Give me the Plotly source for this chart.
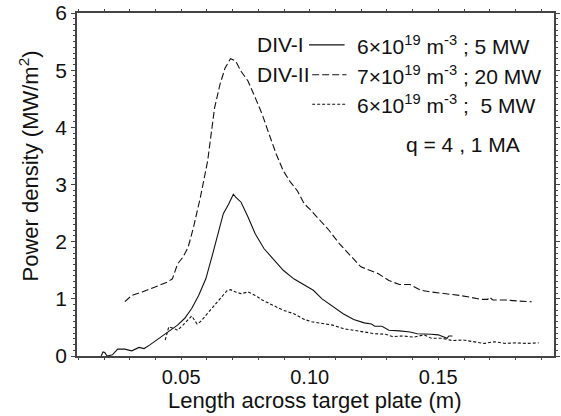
import plotly.graph_objects as go

# DIV-I, 6e19 m^-3, 5 MW (solid)
x_div1 = [0.0189, 0.0196, 0.0203, 0.0212, 0.0233, 0.0253, 0.0281, 0.0308, 0.0336, 0.0356, 0.0377,
          0.0404, 0.0432, 0.0459, 0.0486, 0.0514, 0.0541, 0.0568, 0.0596, 0.0623, 0.0644,
          0.0664, 0.0685, 0.0703, 0.0712, 0.0733, 0.0760, 0.0788, 0.0822, 0.0856, 0.0897,
          0.0938, 0.0979, 0.1014, 0.1048, 0.1089, 0.1130, 0.1171, 0.1212, 0.1240, 0.1253,
          0.1281, 0.1308, 0.1349, 0.1390, 0.1418, 0.1445, 0.1473, 0.1500, 0.1527, 0.1534,
          0.1541, 0.1555]
y_div1 = [0.0, 0.07, 0.06, 0.0, 0.02, 0.12, 0.12, 0.09, 0.15, 0.13, 0.19,
          0.28, 0.37, 0.45, 0.54, 0.66, 0.83, 1.06, 1.35, 1.79, 2.14,
          2.49, 2.66, 2.83, 2.78, 2.69, 2.43, 2.14, 1.88, 1.70, 1.50,
          1.35, 1.24, 1.15, 1.00, 0.87, 0.74, 0.64, 0.58, 0.56, 0.52,
          0.52, 0.45, 0.44, 0.42, 0.39, 0.39, 0.38, 0.37, 0.33, 0.31,
          0.35, 0.35]

# DIV-II, 7e19 m^-3, 20 MW (long dash)
x_div2_20 = [0.0281, 0.0308, 0.0349, 0.0404, 0.0445, 0.0466, 0.0486, 0.0507, 0.0527, 0.0548,
             0.0575, 0.0603, 0.0630, 0.0651, 0.0671, 0.0692, 0.0712, 0.0733, 0.0760, 0.0788,
             0.0815, 0.0842, 0.0870, 0.0897, 0.0925, 0.0952, 0.0979, 0.1000, 0.1034, 0.1075,
             0.1116, 0.1158, 0.1199, 0.1233, 0.1267, 0.1308, 0.1349, 0.1390, 0.1432, 0.1473,
             0.1514, 0.1555, 0.1582, 0.1623, 0.1664, 0.1692, 0.1699, 0.1712, 0.1760, 0.1815,
             0.1863]
y_div2_20 = [0.95, 1.06, 1.12, 1.22, 1.29, 1.35, 1.61, 1.73, 1.90, 2.25,
             2.78, 3.41, 4.34, 4.75, 5.04, 5.20, 5.16, 4.98, 4.81, 4.52,
             4.23, 3.88, 3.53, 3.24, 3.04, 2.89, 2.66, 2.57, 2.40, 2.20,
             1.96, 1.76, 1.56, 1.50, 1.44, 1.32, 1.25, 1.25, 1.15, 1.12,
             1.10, 1.08, 1.06, 1.03, 0.99, 0.99, 1.03, 0.98, 0.98, 0.96,
             0.95]

# DIV-II, 6e19 m^-3, 5 MW (short dash)
x_div2_5 = [0.0438, 0.0445, 0.0452, 0.0473, 0.0486, 0.0507, 0.0527, 0.0541, 0.0562, 0.0575,
            0.0596, 0.0623, 0.0651, 0.0678, 0.0692, 0.0712, 0.0733, 0.0760, 0.0788, 0.0815,
            0.0856, 0.0897, 0.0938, 0.0979, 0.1007, 0.1048, 0.1089, 0.1130, 0.1171, 0.1212,
            0.1253, 0.1295, 0.1322, 0.1363, 0.1404, 0.1445, 0.1473, 0.1514, 0.1555, 0.1596,
            0.1637, 0.1678, 0.1719, 0.1760, 0.1801, 0.1842, 0.1890]
y_div2_5 = [0.28, 0.39, 0.51, 0.48, 0.45, 0.54, 0.63, 0.70, 0.56, 0.60,
            0.71, 0.86, 1.00, 1.14, 1.16, 1.12, 1.09, 1.12, 1.06, 0.98,
            0.89, 0.80, 0.74, 0.64, 0.60, 0.57, 0.54, 0.48, 0.45, 0.42,
            0.39, 0.38, 0.34, 0.35, 0.33, 0.37, 0.31, 0.31, 0.27, 0.28,
            0.25, 0.22, 0.25, 0.22, 0.23, 0.22, 0.23]

x_tickvals = [0.05, 0.10, 0.15]
x_ticktext = ["0.05", "0.10", "0.15"]
y_tickvals = [0, 1, 2, 3, 4, 5, 6]

FONT = "Liberation Sans, Arial, sans-serif"
LC = "#111"

fig = go.Figure()
fig.add_trace(go.Scatter(x=x_div1, y=y_div1, mode="lines",
                         line=dict(color=LC, width=1.1), showlegend=False))
fig.add_trace(go.Scatter(x=x_div2_20, y=y_div2_20, mode="lines",
                         line=dict(color=LC, width=1.1, dash="7px,3px"), showlegend=False))
fig.add_trace(go.Scatter(x=x_div2_5, y=y_div2_5, mode="lines",
                         line=dict(color=LC, width=1.1, dash="3px,2px"), showlegend=False))

axis_common = dict(showgrid=False, zeroline=False, showline=True, linecolor="#444", linewidth=1.5,
                   ticks="outside", tickcolor="#444", mirror="ticks")

fig.update_xaxes(range=[0.0095, 0.195], tickvals=x_tickvals, ticktext=x_ticktext, ticklen=2,
                 tickfont=dict(family=FONT, size=20, color="#111"),
                 minor=dict(dtick=0.01, tick0=0, ticks="outside", ticklen=2, tickcolor="#444"),
                 **axis_common)
fig.update_yaxes(range=[0, 6], tickvals=y_tickvals, ticklen=4,
                 tickfont=dict(family=FONT, size=21, color="#111"),
                 minor=dict(dtick=0.1, tick0=0, ticks="outside", ticklen=2, tickcolor="#444"),
                 **axis_common)

# legend keys
keys = [(0.4865, 0.561, 0.907, "solid"), (0.493, 0.565, 0.820, "7px,3px"), (0.493, 0.565, 0.734, "3px,2px")]
for x0, x1, yy, d in keys:
    fig.add_shape(type="line", xref="paper", yref="paper", x0=x0, x1=x1, y0=yy, y1=yy,
                  line=dict(color=LC, width=1.1, dash=d))

tf = dict(family=FONT, size=21, color="#111")
tf_title = dict(family=FONT, size=22, color="#111")
ann = [
    dict(x=0.481, y=0.907, text="DIV-I", xanchor="right"),
    dict(x=0.493, y=0.820, text="DIV-II", xanchor="right"),
    dict(x=0.582, y=0.907, text="6×10<sup>19</sup> m<sup>-3</sup> ; 5 MW", xanchor="left"),
    dict(x=0.582, y=0.820, text="7×10<sup>19</sup> m<sup>-3</sup> ; 20 MW", xanchor="left"),
    dict(x=0.582, y=0.734, text="6×10<sup>19</sup> m<sup>-3</sup> ;  5 MW", xanchor="left"),
    dict(x=0.685, y=0.616, text="q = 4 , 1 MA", xanchor="left"),
]
for a in ann:
    fig.add_annotation(xref="paper", yref="paper", yanchor="middle", showarrow=False, font=tf, **a)

fig.add_annotation(xref="paper", yref="paper", x=0.497, y=-0.130, text="Length across target plate (m)",
                   showarrow=False, font=tf_title, xanchor="center", yanchor="middle")
fig.add_annotation(xref="paper", yref="paper", x=-0.101, y=0.555, text="Power density (MW/m<sup>2</sup>)",
                   showarrow=False, font=tf_title, textangle=-90, xanchor="center", yanchor="middle")

fig.update_layout(width=561, height=416, margin=dict(l=77, r=1, t=12, b=60),
                  plot_bgcolor="white", paper_bgcolor="white")

fig.write_html("out.html", config={"displayModeBar": False},
               post_script="document.body.style.margin='0';document.body.style.overflow='hidden';")
